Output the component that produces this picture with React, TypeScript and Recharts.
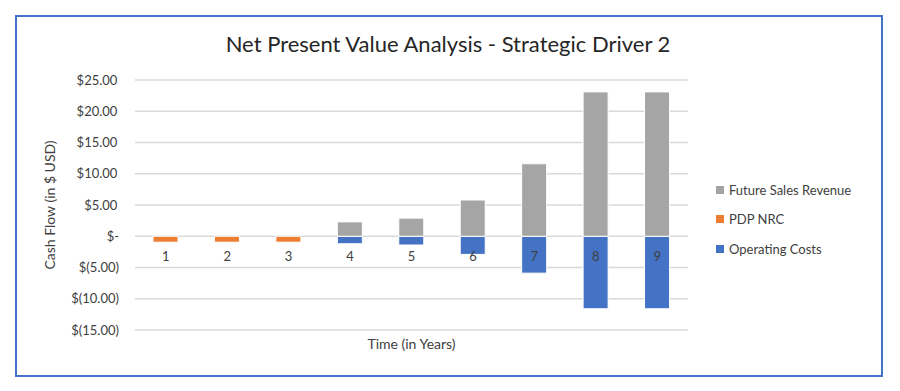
import React from 'react'
import { BarChart, Bar, XAxis, YAxis, CartesianGrid } from 'recharts'

const years = ['1', '2', '3', '4', '5', '6', '7', '8', '9']
const futureSalesRevenue = [0, 0, 0, 2.3, 2.9, 5.8, 11.6, 23.1, 23.1]
const pdpNrc = [-0.95, -0.95, -0.95, 0, 0, 0, 0, 0, 0]
const operatingCosts = [0, 0, 0, -1.2, -1.4, -2.9, -5.9, -11.6, -11.6]
const yTicks = [-15, -10, -5, 0, 5, 10, 15, 20, 25]

const data = years.map((year, i) => ({
  year,
  revenue: futureSalesRevenue[i],
  nrc: pdpNrc[i],
  costs: operatingCosts[i],
}))

const FONT = 'Lato, "Open Sans", sans-serif'
const W = 900
const H = 391
const X_AXIS_H = 30
const M = { top: 80, right: 212, bottom: 31, left: 40 }
const plotH = H - M.top - M.bottom - X_AXIS_H

const legendItems = [
  { label: 'Future Sales Revenue', color: '#A5A5A5' },
  { label: 'PDP NRC', color: '#ED7D31' },
  { label: 'Operating Costs', color: '#4472C4' },
]

const fmtMoney = (v: number) => {
  if (v === 0) return '$-'
  if (v < 0) return `$(${Math.abs(v).toFixed(2)})`
  return `$${v.toFixed(2)}\u2009`
}

// category labels sit just under the zero line, not at the bottom of the plot
const YearTick = ({ x, y, payload }: any) => {
  const lo = yTicks[0]
  const hi = yTicks[yTicks.length - 1]
  const zeroOffset = ((0 - lo) / (hi - lo)) * plotH
  return (
    <text x={x} y={y - zeroOffset + 17} textAnchor="middle" fill="#404040" fontSize={13} fontFamily={FONT}>
      {payload.value}
    </text>
  )
}

export default function App() {
  return (
    <div style={{ position: 'relative', width: W, height: H, background: '#fff' }}>
      <style>{`body{margin:0}`}</style>
      <div
        style={{
          position: 'absolute',
          left: 15,
          top: 15,
          width: 868,
          height: 362,
          border: '2px solid #4472C4',
          boxSizing: 'border-box',
        }}
      />
      <div
        style={{
          position: 'absolute',
          left: 0,
          width: W - 4,
          top: 30,
          textAlign: 'center',
          fontFamily: FONT,
          fontSize: 22,
          color: '#262626',
        }}
      >
        Net Present Value Analysis - Strategic Driver 2
      </div>
      <div style={{ position: 'absolute', left: 716, top: 175, fontFamily: FONT, fontSize: 13, color: '#404040' }}>
        {legendItems.map((it) => (
          <div key={it.label} style={{ display: 'flex', alignItems: 'center', height: 29.5 }}>
            <div style={{ width: 8, height: 8, background: it.color, marginRight: 5 }} />
            <span>{it.label}</span>
          </div>
        ))}
      </div>
      <BarChart
        width={W}
        height={H}
        data={data}
        margin={M}
        stackOffset="sign"
        barSize={25}
        style={{ position: 'absolute', left: 0, top: 0 }}
      >
        <CartesianGrid horizontal vertical={false} stroke="#D9D9D9" strokeWidth={1.3} />
        <XAxis
          dataKey="year"
          axisLine={false}
          tickLine={false}
          height={X_AXIS_H}
          tick={<YearTick />}
          label={{
            value: 'Time (in Years)',
            position: 'insideBottom',
            offset: 11,
            fill: '#404040',
            fontSize: 14,
            fontFamily: FONT,
          }}
        />
        <YAxis
          domain={[yTicks[0], yTicks[yTicks.length - 1]]}
          ticks={yTicks}
          interval={0}
          width={95}
          axisLine={false}
          tickLine={false}
          tickSize={0}
          tickMargin={16}
          tickFormatter={fmtMoney}
          tick={{ fill: '#404040', fontSize: 13, fontFamily: FONT }}
          label={{
            value: 'Cash Flow (in $ USD)',
            angle: -90,
            position: 'insideLeft',
            offset: 10,
            style: { textAnchor: 'middle' },
            fill: '#404040',
            fontSize: 14,
            fontFamily: FONT,
          }}
        />
        <Bar dataKey="costs" name="Operating Costs" stackId="a" fill="#4472C4" stroke="#fff" strokeWidth={1} isAnimationActive={false} />
        <Bar dataKey="nrc" name="PDP NRC" stackId="a" fill="#ED7D31" stroke="#fff" strokeWidth={1} isAnimationActive={false} />
        <Bar dataKey="revenue" name="Future Sales Revenue" stackId="a" fill="#A5A5A5" stroke="#fff" strokeWidth={1} isAnimationActive={false} />
      </BarChart>
    </div>
  )
}
